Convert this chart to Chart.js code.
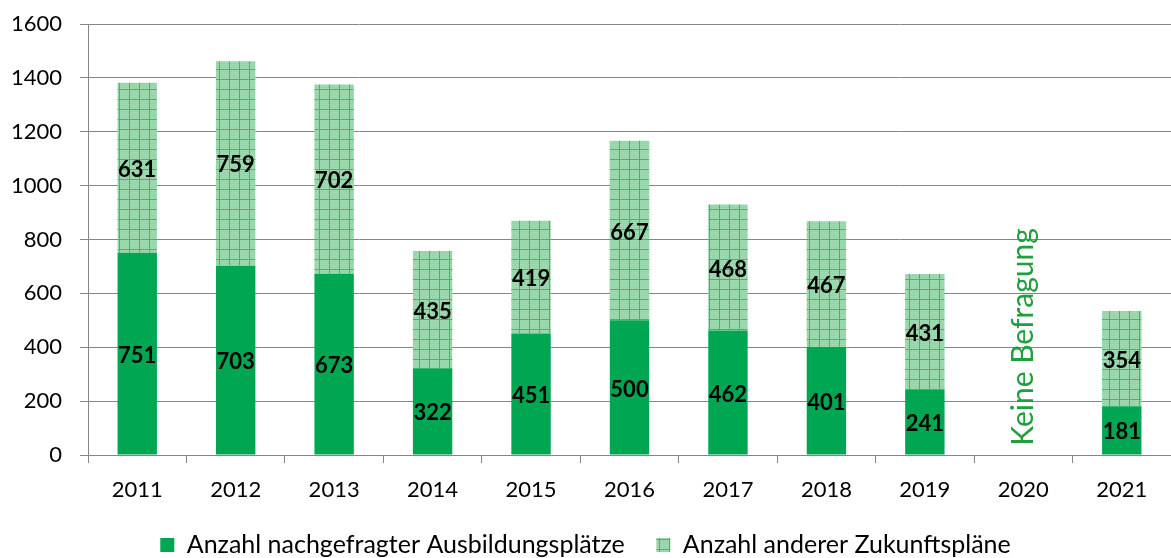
<!DOCTYPE html>
<html lang="de">
<head>
<meta charset="utf-8">
<script src="https://cdn.jsdelivr.net/npm/chart.js@4"></script>
<style>
  html, body { margin: 0; padding: 0; background: #fff; }
  #wrap { width: 1171px; height: 558px; }
</style>
</head>
<body>
<div id="wrap"><canvas id="grafik"></canvas></div>
<script>
const jahre = ['2011', '2012', '2013', '2014', '2015', '2016', '2017', '2018', '2019', '2020', '2021'];
const ausbildungsplaetze = [751, 703, 673, 322, 451, 500, 462, 401, 241, null, 181];
const zukunftsplaene = [631, 759, 702, 435, 419, 667, 468, 467, 431, null, 354];
const yTicks = [0, 200, 400, 600, 800, 1000, 1200, 1400, 1600];
const ohneBefragung = '2020';
const hinweis = 'Keine Befragung';

const schrift = 'Lato, "Open Sans", sans-serif';

// Karo-Muster fuer die obere Serie
function musterErstellen() {
    const c = document.createElement('canvas');
    c.width = 10;
    c.height = 10;
    const g = c.getContext('2d');
    g.fillStyle = '#93d6aa';
    g.fillRect(0, 0, 10, 10);
    g.fillStyle = '#a6ddb8';
    for (let y = 0; y < 10; y += 2) {
        for (let x = (y / 2) % 2; x < 10; x += 2) g.fillRect(x, y, 1, 1);
    }
    g.fillStyle = '#45b36b';
    g.fillRect(0, 9, 10, 1);
    g.fillRect(9, 0, 1, 10);
    return document.getElementById('grafik').getContext('2d').createPattern(c, 'repeat');
}

const muster = musterErstellen();

const wertePlugin = {
    id: 'werte',
    afterDatasetsDraw(chart) {
        const ctx = chart.ctx;
        ctx.save();
        ctx.font = 'bold 22px ' + schrift;
        ctx.fillStyle = '#000';
        ctx.textAlign = 'center';
        ctx.textBaseline = 'middle';
        chart.data.datasets.forEach((ds, i) => {
            chart.getDatasetMeta(i).data.forEach((bar, j) => {
                const v = ds.data[j];
                if (v === null) return;
                ctx.fillText(String(v), bar.x, (bar.y + bar.base) / 2 + 2);
            });
        });
        // Hinweis fuer das Jahr ohne Befragung
        const x = chart.scales.x.getPixelForValue(jahre.indexOf(ohneBefragung));
        const y = chart.scales.y.getPixelForValue(438);
        ctx.translate(x, y);
        ctx.rotate(-Math.PI / 2);
        ctx.font = '30px ' + schrift;
        ctx.fillStyle = '#1f9f3e';
        ctx.fillText(hinweis, 0, 0);
        ctx.restore();
    }
};

new Chart(document.getElementById('grafik'), {
    type: 'bar',
    data: {
        labels: jahre,
        datasets: [
            {
                label: 'Anzahl nachgefragter Ausbildungsplätze',
                data: ausbildungsplaetze,
                backgroundColor: '#00a651',
                barPercentage: 0.4,
                categoryPercentage: 1
            },
            {
                label: 'Anzahl anderer Zukunftspläne',
                data: zukunftsplaene,
                backgroundColor: muster,
                barPercentage: 0.4,
                categoryPercentage: 1
            }
        ]
    },
    options: {
        responsive: true,
        maintainAspectRatio: false,
        animation: false,
        layout: { padding: { top: 24, right: 0, left: 0, bottom: -9.5 } },
        plugins: {
            tooltip: { enabled: false },
            legend: {
                position: 'bottom',
                labels: {
                    color: '#000',
                    font: { family: schrift, size: 25 },
                    boxWidth: 14,
                    boxHeight: 14,
                    padding: 31.5
                }
            }
        },
        scales: {
            x: {
                stacked: true,
                afterFit: axis => { axis.height = 46; },
                border: { color: '#868686', width: 1 },
                grid: { drawOnChartArea: false, color: '#868686', tickLength: 8, offset: true },
                ticks: { color: '#000', font: { family: schrift, size: 22 }, padding: 14 }
            },
            y: {
                stacked: true,
                min: 0,
                max: 1600,
                afterBuildTicks: axis => { axis.ticks = yTicks.map(v => ({ value: v })); },
                afterFit: axis => {
                    axis.width = 88;
                    axis.paddingTop = 0;
                    axis.paddingBottom = 0;
                },
                border: { color: '#868686', width: 1 },
                grid: { color: '#868686', tickLength: 8 },
                ticks: {
                    color: '#000',
                    font: { family: schrift, size: 22 },
                    padding: 18,
                    callback: v => String(v)
                }
            }
        }
    },
    plugins: [wertePlugin]
});
</script>
</body>
</html>
